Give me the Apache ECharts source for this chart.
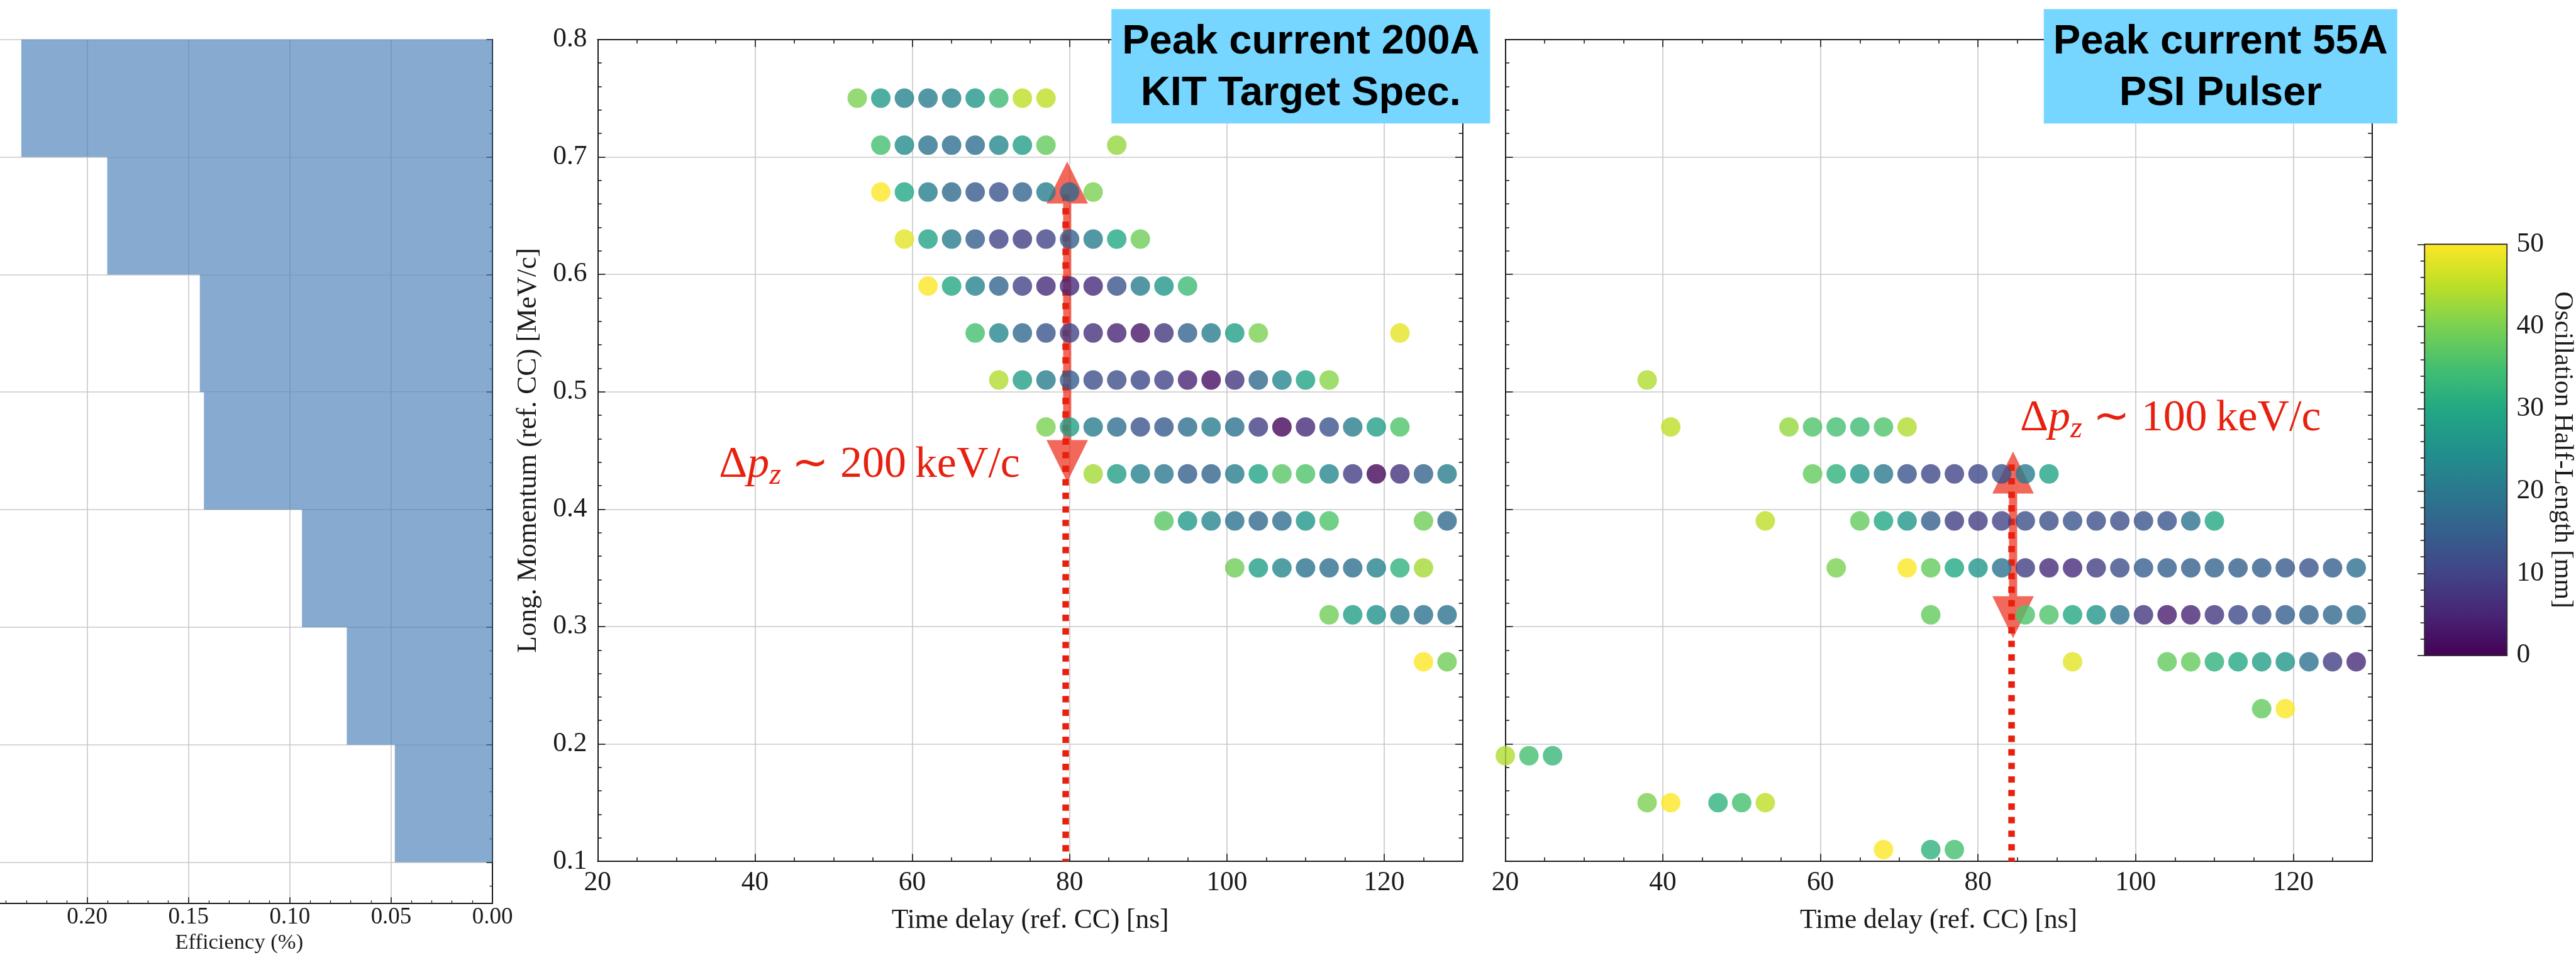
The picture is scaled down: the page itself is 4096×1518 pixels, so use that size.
<!DOCTYPE html>
<html>
<head>
<meta charset="utf-8">
<script src="https://cdn.jsdelivr.net/npm/echarts@6/dist/echarts.min.js"></script>
<style>
  html, body { margin: 0; padding: 0; background: #fff; }
  #chart { width: 4096px; height: 1518px; }
</style>
</head>
<body>
<div id="chart"></div>
<script>
// everything was measured on the 5094x1888 original, window is 0.804 of it
var S = 0.804;
function px(v) { return v * S; }

// left panel: efficiency per momentum bin, top bin first
var effValues = [0.2325, 0.1901, 0.1444, 0.1424, 0.0940, 0.0719, 0.0482];

// middle panel (KIT target spec): [time delay ns, long. momentum MeV/c, half-length mm]
var kitPoints = [
  [53,0.75,40],[56,0.75,27],[59,0.75,22],[62,0.75,21],[65,0.75,22],[68,0.75,26],[71,0.75,34],[74,0.75,45],[77,0.75,45],
  [56,0.71,35],[59,0.71,24],[62,0.71,19],[65,0.71,18],[68,0.71,18],[71,0.71,23],[74,0.71,28],[77,0.71,38],[86,0.71,42],
  [56,0.67,50],[59,0.67,30],[62,0.67,21],[65,0.67,17],[68,0.67,14],[71,0.67,13],[74,0.67,16],[77,0.67,21],[80,0.67,17],[83,0.67,40],
  [59,0.63,48],[62,0.63,29],[65,0.63,21],[68,0.63,15],[71,0.63,10],[74,0.63,9],[77,0.63,10],[80,0.63,15],[83,0.63,21],[86,0.63,30],[89,0.63,39],
  [62,0.59,50],[65,0.59,30],[68,0.59,22],[71,0.59,16],[74,0.59,10],[77,0.59,6],[80,0.59,6],[83,0.59,6],[86,0.59,13],[89,0.59,21],[92,0.59,26],[95,0.59,34],
  [68,0.55,35],[71,0.55,23],[74,0.55,17],[77,0.55,13],[80,0.55,10],[83,0.55,7],[86,0.55,5],[89,0.55,3],[92,0.55,8],[95,0.55,16],[98,0.55,21],[101,0.55,28],[104,0.55,40],[122,0.55,48],
  [71,0.51,44],[74,0.51,28],[77,0.51,21],[80,0.51,15],[83,0.51,12],[86,0.51,12],[89,0.51,11],[92,0.51,10],[95,0.51,5],[98,0.51,2],[101,0.51,8],[104,0.51,17],[107,0.51,23],[110,0.51,29],[113,0.51,41],
  [77,0.47,40],[80,0.47,28],[83,0.47,21],[86,0.47,18],[89,0.47,13],[92,0.47,14],[95,0.47,18],[98,0.47,21],[101,0.47,19],[104,0.47,9],[107,0.47,1],[110,0.47,6],[113,0.47,13],[116,0.47,21],[119,0.47,28],[122,0.47,36],
  [83,0.43,43],[86,0.43,28],[89,0.43,22],[92,0.43,20],[95,0.43,15],[98,0.43,16],[101,0.43,21],[104,0.43,29],[107,0.43,37],[110,0.43,36],[113,0.43,23],[116,0.43,9],[119,0.43,1],[122,0.43,7],[125,0.43,16],[128,0.43,21],
  [92,0.39,37],[95,0.39,27],[98,0.39,23],[101,0.39,19],[104,0.39,17],[107,0.39,18],[110,0.39,26],[113,0.39,36],[125,0.39,39],[128,0.39,17],
  [101,0.35,39],[104,0.35,28],[107,0.35,23],[110,0.35,19],[113,0.35,18],[116,0.35,18],[119,0.35,22],[122,0.35,32],[125,0.35,43],
  [113,0.31,39],[116,0.31,28],[119,0.31,25],[122,0.31,21],[125,0.31,19],[128,0.31,19],
  [125,0.27,50],[128,0.27,39]
];

// right panel (PSI pulser)
var psiPoints = [
  [38,0.51,44],
  [41,0.47,45],[56,0.47,42],[59,0.47,36],[62,0.47,35],[65,0.47,34],[68,0.47,36],[71,0.47,44],
  [59,0.43,38],[62,0.43,32],[65,0.43,26],[68,0.43,20],[71,0.43,13],[74,0.43,11],[77,0.43,10],[80,0.43,11],[83,0.43,13],[86,0.43,21],[89,0.43,29],
  [53,0.39,45],[65,0.39,38],[68,0.39,30],[71,0.39,26],[74,0.39,15],[77,0.39,9],[80,0.39,9],[83,0.39,10],[86,0.39,12],[89,0.39,12],[92,0.39,13],[95,0.39,12],[98,0.39,12],[101,0.39,13],[104,0.39,13],[107,0.39,19],[110,0.39,30],
  [62,0.35,40],[71,0.35,50],[74,0.35,38],[77,0.35,30],[80,0.35,26],[83,0.35,19],[86,0.35,9],[89,0.35,6],[92,0.35,6],[95,0.35,9],[98,0.35,12],[101,0.35,15],[104,0.35,15],[107,0.35,15],[110,0.35,16],[113,0.35,15],[116,0.35,15],[119,0.35,14],[122,0.35,13],[125,0.35,15],[128,0.35,18],
  [74,0.31,38],[86,0.31,36],[89,0.31,36],[92,0.31,30],[95,0.31,26],[98,0.31,19],[101,0.31,8],[104,0.31,4],[107,0.31,5],[110,0.31,8],[113,0.31,11],[116,0.31,13],[119,0.31,15],[122,0.31,16],[125,0.31,17],[128,0.31,18],
  [92,0.27,48],[104,0.27,38],[107,0.27,38],[110,0.27,32],[113,0.27,30],[116,0.27,28],[119,0.27,26],[122,0.27,19],[125,0.27,9],[128,0.27,6],
  [116,0.23,38],[119,0.23,50],
  [20,0.19,44],[23,0.19,35],[26,0.19,33],
  [38,0.15,40],[41,0.15,50],[47,0.15,32],[50,0.15,35],[53,0.15,45],
  [68,0.11,50],[74,0.11,32],[77,0.11,35]
];

// arrows: [time, tip top, tip bottom, dotted from, dotted to]
var kitArrow = [79.7, 0.696, 0.423, 0.668, 0.1];
var psiArrow = [84.45, 0.449, 0.290, 0.438, 0.1];

var cbarRange = [0, 50];
var viridis = ['#440154', '#482475', '#414487', '#355f8d', '#2a788e', '#21918c',
               '#22a884', '#44bf70', '#7ad151', '#bddf26', '#fde725'];

var serif = 'Liberation Serif';
var ink = '#1a1a1a';
var gridGray = '#c8c8c8';
var red = '#e8200f';

var myChart = echarts.init(document.getElementById('chart'));

function frameAxis(extra) {
  var base = {
    type: 'value',
    axisLine: { show: true, onZero: false, lineStyle: { color: ink, width: px(2.5) } },
    axisTick: { show: true, inside: true, length: px(15), lineStyle: { color: ink, width: px(2) } },
    minorTick: { show: true, length: px(8), lineStyle: { color: ink, width: px(2) } },
    axisLabel: { show: false },
    splitLine: { show: false }
  };
  return Object.assign(base, extra);
}

var labelStyle = { show: true, fontFamily: serif, fontSize: px(54), color: ink };
var nameStyle = { fontFamily: serif, fontSize: px(54), color: ink, lineHeight: px(54) };
var splitStyle = { show: true, lineStyle: { color: gridGray, width: px(2) } };

function arrowItem(params, api) {
  var top = api.coord([api.value(0), api.value(1)]);
  var bot = api.coord([api.value(0), api.value(2)]);
  var d0 = api.coord([api.value(0), api.value(3)]);
  var d1 = api.coord([api.value(0), api.value(4)]);
  var cx = top[0], hw = px(41), hl = px(83), sw = px(8);
  var pts = [
    [cx, top[1]], [cx + hw, top[1] + hl], [cx + sw, top[1] + hl],
    [cx + sw, bot[1] - hl], [cx + hw, bot[1] - hl], [cx, bot[1]],
    [cx - hw, bot[1] - hl], [cx - sw, bot[1] - hl], [cx - sw, top[1] + hl],
    [cx - hw, top[1] + hl]
  ];
  return {
    type: 'group',
    children: [
      { type: 'polygon', shape: { points: pts }, style: { fill: 'rgba(236,32,14,0.68)' } },
      { type: 'line', shape: { x1: d0[0] - px(3), y1: d0[1], x2: d1[0] - px(3), y2: d1[1] },
        style: { stroke: red, lineWidth: px(13), lineDash: [px(12.6), px(14.2)], lineCap: 'butt' } }
    ]
  };
}

function redLabel(x, baseline, txt) {
  var st = { fontFamily: serif, fontSize: px(87), lineHeight: px(100), fill: red, color: red };
  return {
    type: 'text', z: 120, x: px(x), y: px(baseline - 80),
    style: {
      text: '{d|\u0394}{p|p}{z|z}{n| \u223C ' + txt + '\u2009keV/c}',
      fill: red,
      rich: {
        d: st,
        p: Object.assign({}, st, { fontStyle: 'italic' }),
        z: { fontFamily: serif, fontSize: px(60), lineHeight: px(40), verticalAlign: 'bottom', fontStyle: 'italic', fill: red, color: red },
        n: st
      }
    }
  };
}

function boxGroup(x, w, txt) {
  return [
    { type: 'rect', z: 110, shape: { x: px(x), y: px(18), width: px(w), height: px(226) }, style: { fill: '#76d6ff' } },
    { type: 'text', z: 111, x: px(x + w / 2), y: px(134),
      style: { text: txt, fill: '#000', fontFamily: 'Liberation Sans', fontWeight: 'bold', fontSize: px(81),
               lineHeight: px(102), align: 'center', verticalAlign: 'middle',
               textAlign: 'center', textVerticalAlign: 'middle' } }
  ];
}

var option = {
  animation: false,
  textStyle: { fontFamily: serif },
  grid: [
    { left: px(-28), top: px(78), width: px(1002), height: px(1708), containLabel: false, outerBoundsMode: 'none' },
    { left: px(1182), top: px(78), width: px(1711), height: px(1625), containLabel: false, outerBoundsMode: 'none' },
    { left: px(2977), top: px(78), width: px(1714), height: px(1625), containLabel: false, outerBoundsMode: 'none' },
    { left: px(4795), top: px(483), width: px(163), height: px(813), containLabel: false, outerBoundsMode: 'none' }
  ],
  visualMap: {
    show: false, type: 'continuous', min: cbarRange[0], max: cbarRange[1],
    dimension: 2, seriesIndex: [0, 1], inRange: { color: viridis }
  },
  xAxis: [
    frameAxis({ gridIndex: 0, inverse: true, min: 0, max: 0.25, interval: 0.05,
      axisTick: { show: true, inside: true, length: px(12), lineStyle: { color: ink, width: px(2) } },
      minorTick: { show: true, splitNumber: 5, length: px(6), lineStyle: { color: ink, width: px(1.5) } },
      axisLabel: { show: true, fontFamily: serif, fontSize: px(46), color: ink, margin: px(5), showMaxLabel: false,
                   formatter: function (v) { return v.toFixed(2); } },
      splitLine: splitStyle,
      name: 'Efficiency (%)', nameLocation: 'middle', nameGap: px(56),
      nameTextStyle: { fontFamily: serif, fontSize: px(43), color: ink, lineHeight: px(43) } }),
    frameAxis({ gridIndex: 1, min: 20, max: 130, interval: 20, minorTick: { show: true, splitNumber: 4, length: px(8), lineStyle: { color: ink, width: px(2) } },
      axisLabel: Object.assign({ margin: px(16), showMaxLabel: false }, labelStyle), splitLine: splitStyle,
      name: 'Time delay (ref. CC) [ns]', nameLocation: 'middle', nameGap: px(90), nameTextStyle: nameStyle }),
    frameAxis({ gridIndex: 1, position: 'top', min: 20, max: 130, interval: 20,
      minorTick: { show: true, splitNumber: 4, length: px(8), lineStyle: { color: ink, width: px(2) } } }),
    frameAxis({ gridIndex: 2, min: 20, max: 130, interval: 20, minorTick: { show: true, splitNumber: 4, length: px(8), lineStyle: { color: ink, width: px(2) } },
      axisLabel: Object.assign({ margin: px(16), showMaxLabel: false }, labelStyle), splitLine: splitStyle,
      name: 'Time delay (ref. CC) [ns]', nameLocation: 'middle', nameGap: px(90), nameTextStyle: nameStyle }),
    frameAxis({ gridIndex: 2, position: 'top', min: 20, max: 130, interval: 20,
      minorTick: { show: true, splitNumber: 4, length: px(8), lineStyle: { color: ink, width: px(2) } } }),
    { gridIndex: 3, type: 'value', min: 0, max: 1, show: false }
  ],
  yAxis: [
    frameAxis({ gridIndex: 0, position: 'right', inverse: true, min: 0, max: 7.35, interval: 1,
      axisTick: { show: true, inside: true, length: px(12), lineStyle: { color: ink, width: px(2) } },
      minorTick: { show: true, splitNumber: 5, length: px(6), lineStyle: { color: ink, width: px(1.5) } },
      splitLine: splitStyle }),
    frameAxis({ gridIndex: 1, min: 0.1, max: 0.8, interval: 0.1,
      minorTick: { show: true, splitNumber: 5, length: px(8), lineStyle: { color: ink, width: px(2) } },
      axisLabel: Object.assign({ margin: px(21), formatter: function (v) { return v.toFixed(1); } }, labelStyle),
      splitLine: splitStyle,
      name: 'Long. Momentum (ref. CC) [MeV/c]', nameLocation: 'middle', nameRotate: 90, nameGap: px(109), nameTextStyle: nameStyle }),
    frameAxis({ gridIndex: 1, position: 'right', min: 0.1, max: 0.8, interval: 0.1,
      minorTick: { show: true, splitNumber: 5, length: px(8), lineStyle: { color: ink, width: px(2) } } }),
    frameAxis({ gridIndex: 2, min: 0.1, max: 0.8, interval: 0.1,
      minorTick: { show: true, splitNumber: 5, length: px(8), lineStyle: { color: ink, width: px(2) } },
      splitLine: splitStyle }),
    frameAxis({ gridIndex: 2, position: 'right', min: 0.1, max: 0.8, interval: 0.1,
      minorTick: { show: true, splitNumber: 5, length: px(8), lineStyle: { color: ink, width: px(2) } } }),
    frameAxis({ gridIndex: 3, position: 'right', min: cbarRange[0], max: cbarRange[1], interval: 10, z: 10,
      axisLine: { show: false },
      axisTick: { show: true, inside: true, length: px(14), lineStyle: { color: ink, width: px(2) } },
      minorTick: { show: true, splitNumber: 5, length: px(8), lineStyle: { color: ink, width: px(2) } },
      axisLabel: Object.assign({ margin: px(19) }, labelStyle),
      name: 'Oscillation Half-Length [mm]', nameLocation: 'middle', nameRotate: -90, nameGap: px(83),
      nameTextStyle: { fontFamily: serif, fontSize: px(52), color: ink, lineHeight: px(52) } })
  ],
  series: [
    { type: 'scatter', xAxisIndex: 1, yAxisIndex: 1, data: kitPoints, symbolSize: px(38.5), silent: true },
    { type: 'scatter', xAxisIndex: 3, yAxisIndex: 3, data: psiPoints, symbolSize: px(38.5), silent: true },
    {
      type: 'custom', xAxisIndex: 0, yAxisIndex: 0, silent: true,
      data: effValues.map(function (v, i) { return [v, i, i + 1]; }),
      renderItem: function (params, api) {
        var p0 = api.coord([0, api.value(1)]);
        var p1 = api.coord([api.value(0), api.value(2)]);
        return {
          type: 'rect',
          shape: { x: Math.min(p0[0], p1[0]), y: Math.min(p0[1], p1[1]),
                   width: Math.abs(p1[0] - p0[0]), height: Math.abs(p1[1] - p0[1]) },
          style: { fill: 'rgba(70,126,183,0.65)' }
        };
      }
    },
    { type: 'custom', xAxisIndex: 1, yAxisIndex: 1, silent: true, data: [kitArrow], renderItem: arrowItem },
    { type: 'custom', xAxisIndex: 3, yAxisIndex: 3, silent: true, data: [psiArrow], renderItem: arrowItem },
    {
      type: 'custom', xAxisIndex: 5, yAxisIndex: 5, silent: true, data: [cbarRange],
      renderItem: function (params, api) {
        var p0 = api.coord([0, api.value(0)]);
        var p1 = api.coord([1, api.value(1)]);
        var stops = viridis.map(function (c, i) { return { offset: i / (viridis.length - 1), color: c }; });
        return {
          type: 'rect',
          shape: { x: p0[0], y: p1[1], width: p1[0] - p0[0], height: p0[1] - p1[1] },
          style: { fill: new echarts.graphic.LinearGradient(0, 1, 0, 0, stops), stroke: '#333', lineWidth: px(2.5) }
        };
      }
    }
  ],
  graphic: [].concat(
    boxGroup(2198, 749, 'Peak current 200A\nKIT Target Spec.'),
    boxGroup(4042, 699, 'Peak current 55A\nPSI Pulser'),
    [redLabel(1422, 950, '200'), redLabel(3995, 858, '100')]
  )
};

myChart.setOption(option);
</script>
</body>
</html>
